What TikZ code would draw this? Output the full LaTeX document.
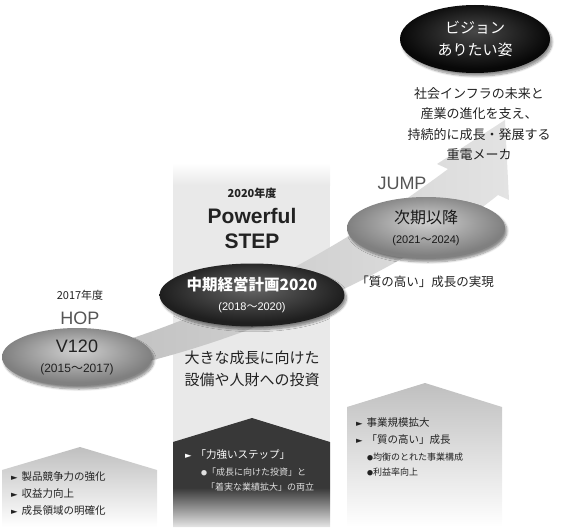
\documentclass[tikz,border=0pt]{standalone}
\usepackage{fontspec}
\setmainfont{Noto Sans CJK JP}
\newfontfamily\latinfont{Liberation Sans}
\newfontfamily\cjkfont{Noto Sans CJK JP}
\newfontfamily\symfont{DejaVu Sans}
\usetikzlibrary{shapes.geometric, shadows.blur}
\usepackage{xcolor}
\definecolor{ink}{HTML}{222222}
\definecolor{stagegray}{HTML}{555555}
\definecolor{column}{HTML}{E9E9E9}
\pgfdeclareradialshading{lightell}{\pgfpoint{0bp}{6bp}}{color(0bp)=(black!18); color(25bp)=(black!50); color(50bp)=(black!50)}
\pgfdeclareradialshading{darkell}{\pgfpoint{0bp}{6bp}}{color(0bp)=(black!60); color(25bp)=(black!88); color(50bp)=(black!88)}
\pgfdeclareradialshading{blackell}{\pgfpoint{0bp}{6bp}}{color(0bp)=(black!72); color(25bp)=(black!97); color(50bp)=(black!97)}
\pgfdeclareverticalshading{darkhouse}{100bp}{color(0bp)=(black!10); color(25bp)=(black!10); color(43bp)=(black!78); color(75bp)=(black!78); color(100bp)=(black!78)}
\newcommand\pointer{{\symfont\fontsize{8.5}{8.5}\selectfont ►}\hspace{4pt}}
\newcommand\dotmark{{\fontsize{6}{6}\selectfont ●}}
\newcommand\wave{{\cjkfont ～}}

\begin{document}
\begin{tikzpicture}[x=1pt, y=-1pt,
		phase/.style={ellipse, inner sep=0pt, align=center,
			blur shadow={shadow xshift=2pt, shadow yshift=-3pt, shadow opacity=45, shadow blur steps=8}},
		stage/.style={text=stagegray, font=\latinfont\fontsize{18}{20}\selectfont},
		year/.style={text=ink, font=\fontsize{11}{13}\selectfont},
		item/.style={anchor=west, inner sep=0pt, text=ink, font=\fontsize{10.5}{12}\selectfont},
		subitem/.style={anchor=west, inner sep=0pt, text=ink, font=\fontsize{9}{11}\selectfont}]
			\useasboundingbox (0,0) rectangle (572,527);

			% Gray column behind the STEP
			\fill[column] (173,185) rectangle (330,527);
			\shade[top color=white, bottom color=column] (173,163) rectangle (330,185);

			% Rising arrow
			\shade[left color=black!24, right color=black!11] (120,342) .. controls (240,305) and (360,235) .. (448,169) -- (437,164) -- (505,120) -- (509,200) -- (498,195) .. controls (420,258) and (270,335) .. (120,368) -- cycle;

			% Houses at the bottom
			\shade[top color=black!25, bottom color=white] (2,470) -- (80,447) -- (157,470) -- (157,527) -- (2,527) -- cycle;
			\shade[shading=darkhouse] (173,442) -- (252,418) -- (330,442) -- (330,527) -- (173,527) -- cycle;
			\shade[top color=black!25, middle color=black!18, bottom color=white] (347,407) -- (425,383) -- (502,407) -- (502,527) -- (347,527) -- cycle;

			% Phases
			\node[phase, shading=lightell, minimum width=150pt, minimum height=58pt, text=ink, font=\latinfont\fontsize{18}{20}\selectfont] (v120) at (77,357)
				{V120\\[0pt]\fontsize{12}{13}\selectfont (2015\wave 2017)};
			\node[phase, shading=darkell, minimum width=157pt, minimum height=63pt, text=white, font=\fontsize{15.5}{18}\selectfont\bfseries] (plan) at (252,295)
				{中期経営計画2020\\[2pt]\latinfont\mdseries\fontsize{11}{13}\selectfont (2018\wave 2020)};
			\node[phase, shading=lightell, minimum width=158pt, minimum height=62pt, text=black!90, font=\fontsize{16}{18}\selectfont] (next) at (426,228)
				{次期以降\\[2pt]\latinfont\fontsize{11}{13}\selectfont (2021\wave 2024)};
			\node[phase, shading=blackell, minimum width=150pt, minimum height=68pt, text=white, font=\fontsize{15}{22}\selectfont] (vision) at (475,39)
				{ビジョン\\ありたい姿};

			% Stage labels
			\node[year] (hopyear) at (80,295) {2017年度};
			\node[stage] (hop) at (80,318) {HOP};
			\node[year, font=\fontsize{11}{13}\selectfont\bfseries] (stepyear) at (252,193) {2020年度};
			\node[text=ink, align=center, font=\latinfont\bfseries\fontsize{21}{25}\selectfont] (step) at (252,228) {Powerful\\STEP};
			\node[stage] (jump) at (402,183) {JUMP};

			% Descriptions
			\node[text=ink, align=center, font=\fontsize{15}{22}\selectfont] (invest) at (252,369) {大きな成長に向けた\\設備や人財への投資};
			\node[text=ink, font=\fontsize{12.5}{14}\selectfont] (quality) at (425,282) {「質の高い」成長の実現};
			\node[text=ink, align=center, font=\fontsize{13}{20.5}\selectfont] (goal) at (479,124)
				{社会インフラの未来と\\産業の進化を支え、\\持続的に成長・発展する\\重電メーカ};

			% Items in the houses
			\node[item] (hopa) at (11,477) {\pointer 製品競争力の強化};
			\node[item] (hopb) at (11,494) {\pointer 収益力向上};
			\node[item] (hopc) at (11,511) {\pointer 成長領域の明確化};

			\node[item, text=white] (stepa) at (185,455) {\pointer「力強いステップ」};
			\node[subitem, text=black!12] (stepb) at (201,472) {\dotmark「成長に向けた投資」と};
			\node[subitem, text=black!12] (stepc) at (206,487) {「着実な業績拡大」の両立};

			\node[item] (jumpa) at (356,423) {\pointer 事業規模拡大};
			\node[item] (jumpb) at (356,440) {\pointer「質の高い」成長};
			\node[subitem] (jumpc) at (367,457) {\dotmark 均衡のとれた事業構成};
			\node[subitem] (jumpd) at (367,472) {\dotmark 利益率向上};
		\end{tikzpicture}
\end{document}
